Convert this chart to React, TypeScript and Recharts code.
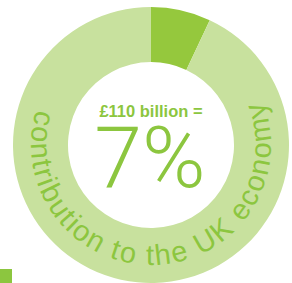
import React from 'react';
import { PieChart, Pie, Cell } from 'recharts';

// share of the economy (percent)
const segmentNames = ['Contribution', 'Rest of UK economy'];
const segmentValues = [7, 93];
const segmentColors = ['#95c83d', '#c8e19e'];

const headline = '£110 billion =';
const percentLabel = '7%';
const ringCaption = 'contribution to the UK economy';

const W = 292;
const H = 283;
const CX = 151;
const CY = 145;
const TEXT_R = 120;
const TEXT_COLOR = '#8cc63f';

// arc running from upper-left, down round the bottom, to upper-right
const captionArc = () => {
    const a = (35 * Math.PI) / 180;
    const x0 = CX - TEXT_R * Math.cos(a);
    const y0 = CY - TEXT_R * Math.sin(a);
    const x1 = CX + TEXT_R * Math.cos(a);
    return `M ${x0} ${y0} A ${TEXT_R} ${TEXT_R} 0 1 0 ${x1} ${y0}`;
};

// drawn through the pie's label layer so it sits above the sectors
const renderLabels = (props: any) => {
    if (props.index !== 0) return null;
    return (
        <g key="ring-labels">
            <path id="captionArc" d={captionArc()} fill="none" stroke="none" />
            <text
                fontFamily="'Liberation Sans', Arial, sans-serif"
                fontSize={29}
                letterSpacing={1.8}
                fill={TEXT_COLOR}
            >
                <textPath href="#captionArc" startOffset="51%" textAnchor="middle">
                    {ringCaption}
                </textPath>
            </text>
            <text
                x={CX}
                y={117}
                textAnchor="middle"
                fontFamily="'Liberation Sans', Arial, sans-serif"
                fontWeight="bold"
                fontSize={16.5}
                fill={TEXT_COLOR}
            >
                {headline}
            </text>
            <text
                x={CX - 1}
                y={187}
                textAnchor="middle"
                fontFamily="Roboto, sans-serif"
                fontWeight={300}
                fontSize={86}
                fill={TEXT_COLOR}
            >
                {percentLabel}
            </text>
        </g>
    );
};

export default function App() {
    const data = segmentNames.map((name, i) => ({ name, value: segmentValues[i] }));

    return (
        <div style={{ position: 'absolute', left: 0, top: 0, width: W, height: H, background: '#fff' }}>
            <PieChart width={W} height={H} margin={{ top: 0, right: 0, bottom: 0, left: 0 }}>
                <Pie
                    data={data}
                    dataKey="value"
                    nameKey="name"
                    cx={CX}
                    cy={CY}
                    innerRadius={83}
                    outerRadius={138}
                    startAngle={90}
                    endAngle={-270}
                    stroke="none"
                    label={renderLabels}
                    labelLine={false}
                    isAnimationActive={false}
                >
                    {data.map((d, i) => (
                        <Cell key={d.name} fill={segmentColors[i]} />
                    ))}
                </Pie>
                <rect x={0} y={269} width={12} height={14} fill={TEXT_COLOR} />
            </PieChart>
        </div>
    );
}
